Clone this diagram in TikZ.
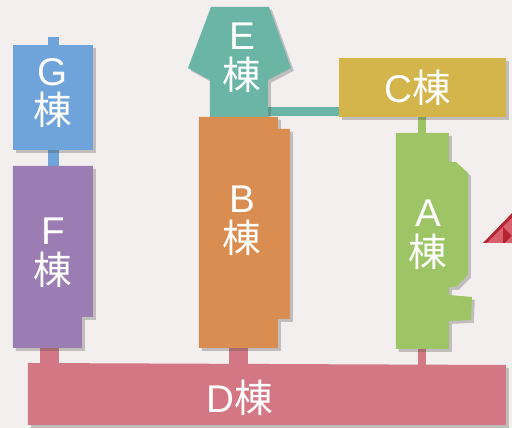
\documentclass[tikz,border=0pt]{standalone}
\usepackage{fontspec}
\setmainfont{Liberation Sans}
\newfontfamily\jpfont{Noto Sans CJK JP}
\newcommand\tou{{\jpfont 棟}}
\usetikzlibrary{shadows}

\definecolor{bgpaper}{HTML}{F4EFEF}
\definecolor{gblue}{HTML}{6FA4DA}
\definecolor{fpurple}{HTML}{9B7DB4}
\definecolor{eteal}{HTML}{6BB5A6}
\definecolor{borange}{HTML}{DA8D50}
\definecolor{cgold}{HTML}{D4B54C}
\definecolor{agreen}{HTML}{9DC566}
\definecolor{dpink}{HTML}{D27783}
\definecolor{tridark}{HTML}{B52430}
\definecolor{trilight}{HTML}{D9606E}

\tikzset{
  bldg/.style={drop shadow={shadow xshift=1.6pt,shadow yshift=-1.6pt,opacity=0.3,fill=black!70}},
  lbl/.style={text=white,font=\fontsize{22}{22.5}\selectfont,align=center,inner sep=0pt},
}

\begin{document}
\begin{tikzpicture}[x=0.02cm,y=-0.02cm]
  \fill[bgpaper] (0,0) rectangle (512,428);
  \useasboundingbox (0,0) rectangle (512,428);
  % passages
  \fill[gblue] (48,37) rectangle (59,166);
  \fill[dpink] (40,340) rectangle (59,365);
  \fill[dpink] (229,340) rectangle (248,365);
  \fill[dpink] (418,340) rectangle (426,365);
  \fill[eteal] (260,107) rectangle (345,116);
  \fill[agreen] (418,112) rectangle (426,140);
  % buildings
  \fill[gblue,bldg] (13,45) rectangle (93,150);
  \fill[fpurple,bldg] (13,166) -- (93,166) -- (93,317) -- (82,317) -- (82,348) -- (13,348) -- cycle;
  \fill[eteal,bldg] (211,7) -- (269,7) -- (291,68) -- (268,80) -- (268,120) -- (210,120) -- (210,80) -- (188,68) -- cycle;
  \fill[borange,bldg] (199,117) -- (278,117) -- (278,129) -- (290,129) -- (290,319) -- (278,319) -- (278,348) -- (199,348) -- cycle;
  \fill[cgold,bldg] (339,58) rectangle (506,117);
  \fill[agreen,bldg] (396,133) -- (449,133) -- (449,162) -- (456,162) -- (468,173) -- (468,275) -- (456,287)
    -- (449,287) -- (449,295) -- (472,297) -- (471,320) -- (449,321) -- (449,349) -- (396,349) -- cycle;
  \fill[dpink,bldg] (28,363) -- (506,365) -- (506,425) -- (28,425) -- cycle;
  % marker
  \fill[tridark] (483,243) -- (516,209) -- (549,243) -- cycle;
  \fill[trilight] (487,243) -- (495,235) -- (503,243) -- cycle;
  \fill[trilight] (495,235) -- (503,227) -- (503,243) -- cycle;
  \fill[trilight] (503,227) -- (512,218) -- (512,236) -- cycle;
  \fill[trilight] (512,236) -- (505,243) -- (512,243) -- cycle;
  % labels
  \node[lbl] (gname) at (53,93) {G\\\tou};
  \node[lbl] (fname) at (53,253) {F\\\tou};
  \node[lbl] (ename) at (242,58) {E\\\tou};
  \node[lbl] (bname) at (242,221) {B\\\tou};
  \node[lbl] (aname) at (428,235) {A\\\tou};
  \node[lbl] (cname) at (418,88) {C\tou};
  \node[lbl] (dname) at (240,398) {D\tou};
\end{tikzpicture}
\end{document}
